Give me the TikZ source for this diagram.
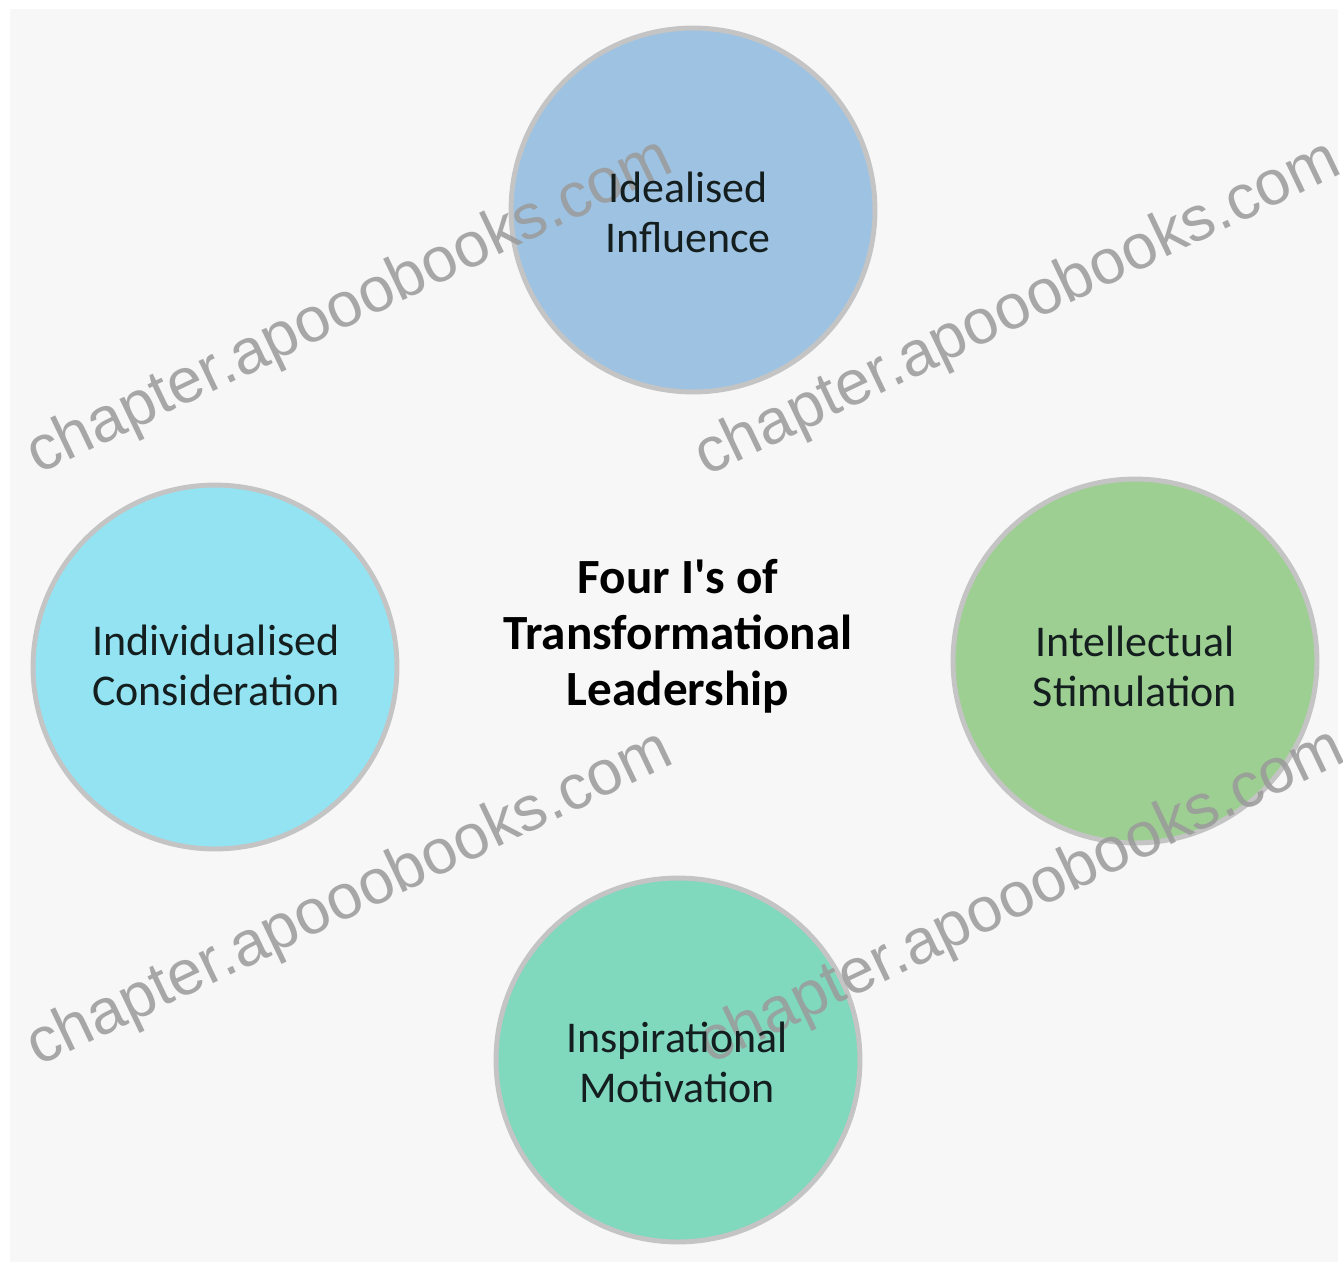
\documentclass[tikz,border=0pt]{standalone}
\usepackage{fontspec}
\setmainfont{Carlito}[Ligatures=TeXOff]
\newfontfamily\wmfont{Liberation Sans}
\definecolor{bgc}{HTML}{F7F7F7}
\definecolor{cblue}{HTML}{9EC3E2}
\definecolor{ccyan}{HTML}{94E3F2}
\definecolor{cgreen}{HTML}{9ECF92}
\definecolor{cteal}{HTML}{80D8BD}
\definecolor{cring}{HTML}{C4C4C4}
\definecolor{wmc}{HTML}{9A9A9A}
\definecolor{txt}{HTML}{141E1E}
\tikzset{
  bubble/.style={circle, draw=cring, line width=2.8pt, minimum size=7.28cm, inner sep=0pt},
  bubtext/.style={align=center, text=txt, font=\fontsize{25}{28.5}\selectfont},
  titletext/.style={align=center, text=black, font=\fontsize{28}{32}\selectfont\bfseries},
  wmark/.style={text=wmc, opacity=0.85, rotate=25.5, font=\wmfont\fontsize{36}{40}\selectfont, inner sep=0pt}
}
\begin{document}
\begin{tikzpicture}[x=0.02cm, y=-0.02cm]
\useasboundingbox (0,0) rectangle (1343,1262);
\fill[white] (0,0) rectangle (1343,1262);
\fill[bgc] (10,9) rectangle (1338,1262);
% circles
\node[bubble, fill=cblue]  (top)    at (693,210)  {};
\node[bubble, fill=ccyan]  (left)   at (215,667)  {};
\node[bubble, fill=cgreen] (right)  at (1135,661) {};
\node[bubble, fill=cteal]  (bottom) at (678,1060) {};
% watermarks
\node[wmark] (w1) at (350,308) {chapter.apooobooks.com};
\node[wmark] (w2) at (1018,310) {chapter.apooobooks.com};
\node[wmark] (w3) at (350,900) {chapter.apooobooks.com};
\node[wmark] (w4) at (1022,898) {chapter.apooobooks.com};
% labels
\node[bubtext] (ltop) at (688,212) {Idealised\\Influence};
\node[bubtext] (lleft) at (216,665) {Individualised\\Consideration};
\node[bubtext] (lright) at (1135,666) {Intellectual\\Stimulation};
\node[bubtext] (lbottom) at (677,1062) {Inspirational\\Motivation};
\node[titletext] (title) at (678,636) {Four I's of\\Transformational\\Leadership};
\end{tikzpicture}
\end{document}
